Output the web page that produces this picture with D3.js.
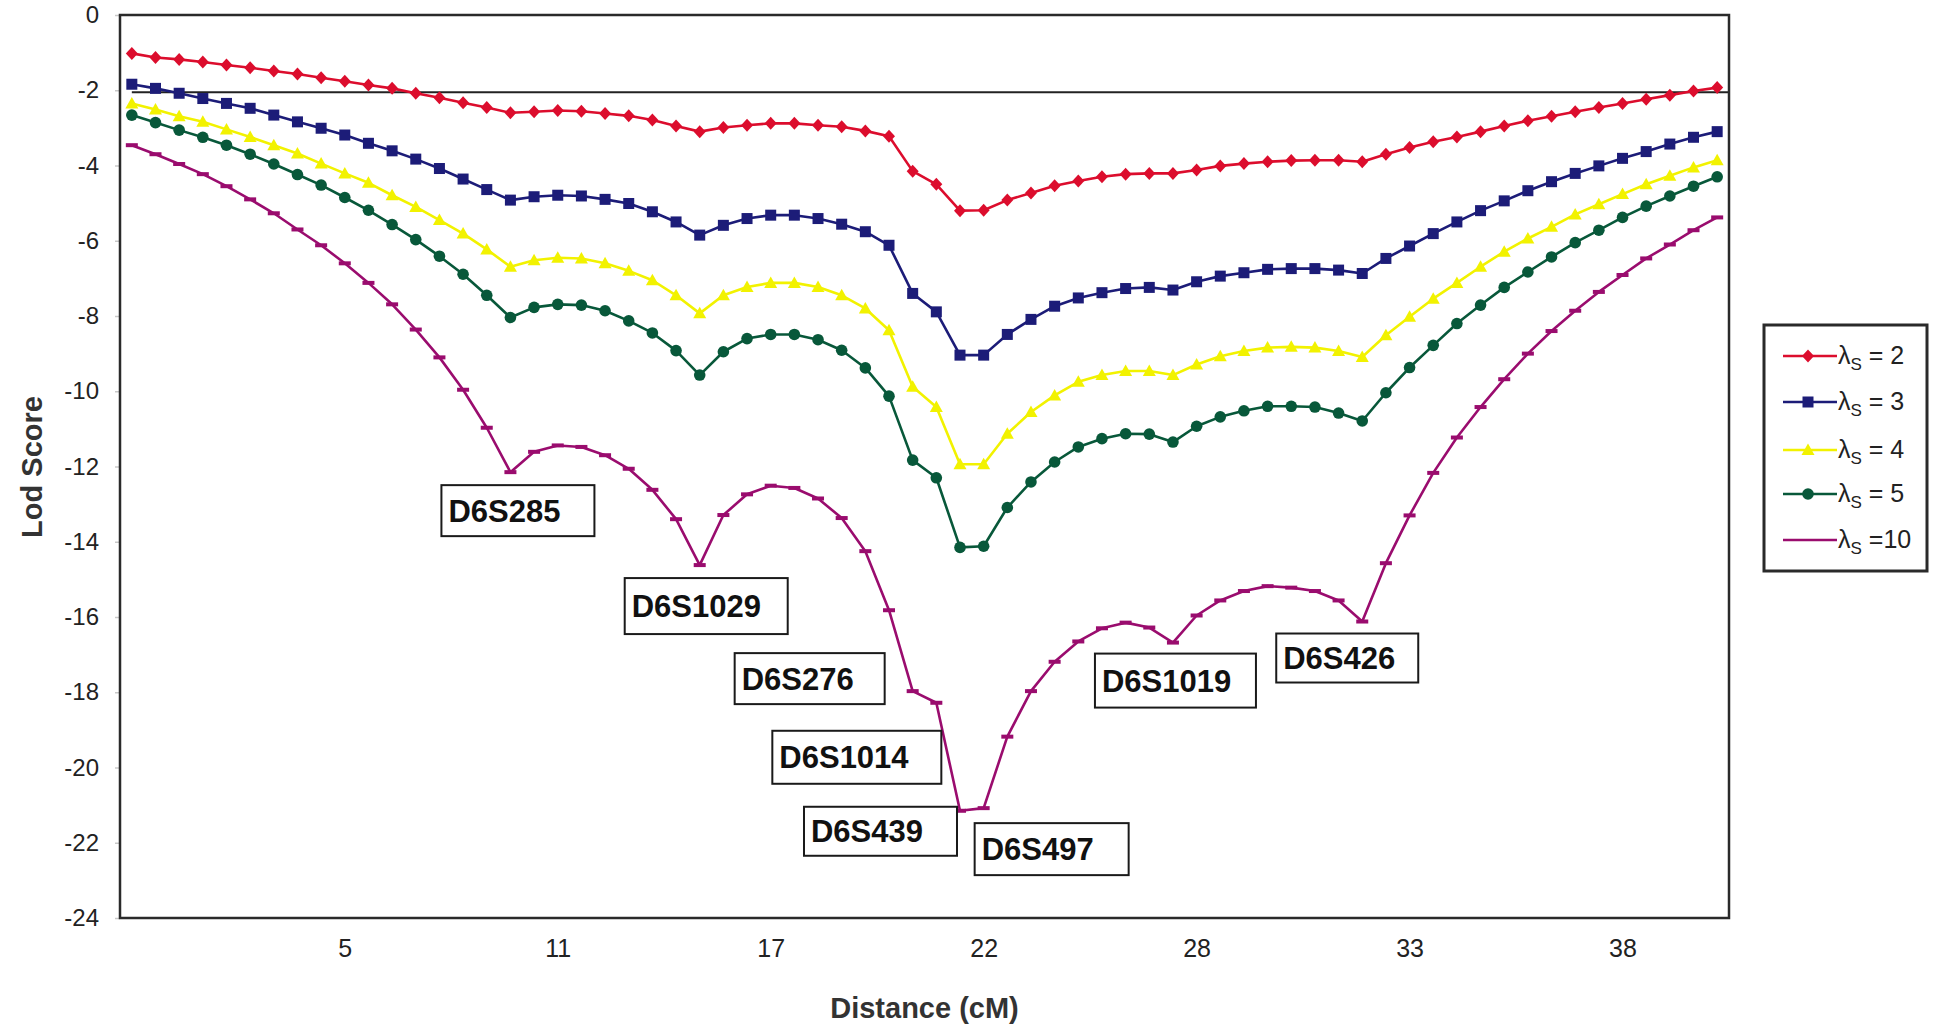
<!DOCTYPE html>
<html>
<head>
<meta charset="utf-8">
<script src="https://cdn.jsdelivr.net/npm/d3@7"></script>
<style>
  html, body { margin: 0; padding: 0; background: #fff; }
  svg { display: block; font-family: "Liberation Sans", Arial, Helvetica, sans-serif; }
</style>
</head>
<body>
<svg id="chart" width="1937" height="1025"></svg>
<script>
// ---------------- DATA ----------------
const seriesNames = ["2", "3", "4", "5", "10"];

const lambda2 = [-1.02,-1.13,-1.18,-1.25,-1.33,-1.40,-1.49,-1.57,-1.67,-1.76,-1.86,-1.95,-2.08,-2.20,-2.33,-2.46,-2.60,-2.57,-2.54,-2.56,
  -2.62,-2.68,-2.79,-2.95,-3.10,-2.99,-2.93,-2.88,-2.88,-2.93,-2.97,-3.08,-3.22,-4.15,-4.50,-5.20,-5.19,-4.92,-4.73,-4.54,
  -4.41,-4.30,-4.23,-4.21,-4.21,-4.12,-4.01,-3.95,-3.90,-3.87,-3.86,-3.86,-3.90,-3.70,-3.52,-3.37,-3.24,-3.10,-2.95,-2.81,
  -2.69,-2.57,-2.46,-2.35,-2.24,-2.13,-2.02,-1.93];

const lambda3 = [-1.84,-1.95,-2.08,-2.22,-2.35,-2.48,-2.66,-2.84,-3.01,-3.19,-3.41,-3.61,-3.83,-4.08,-4.36,-4.64,-4.92,-4.83,-4.79,-4.81,
  -4.90,-5.01,-5.23,-5.50,-5.85,-5.59,-5.41,-5.32,-5.32,-5.41,-5.56,-5.76,-6.12,-7.40,-7.89,-9.04,-9.04,-8.49,-8.09,-7.74,
  -7.52,-7.38,-7.27,-7.24,-7.31,-7.09,-6.94,-6.85,-6.76,-6.74,-6.74,-6.78,-6.87,-6.47,-6.14,-5.81,-5.50,-5.20,-4.94,-4.67,
  -4.43,-4.21,-4.01,-3.81,-3.63,-3.43,-3.25,-3.10];

const lambda4 = [-2.35,-2.51,-2.69,-2.84,-3.04,-3.24,-3.46,-3.68,-3.95,-4.21,-4.46,-4.79,-5.10,-5.45,-5.81,-6.23,-6.69,-6.52,-6.45,-6.47,
  -6.60,-6.80,-7.05,-7.45,-7.93,-7.45,-7.23,-7.12,-7.12,-7.23,-7.45,-7.80,-8.38,-9.88,-10.42,-11.94,-11.94,-11.13,-10.55,-10.11,
  -9.75,-9.57,-9.46,-9.46,-9.57,-9.29,-9.07,-8.93,-8.84,-8.82,-8.84,-8.93,-9.09,-8.51,-8.02,-7.54,-7.12,-6.69,-6.29,-5.94,
  -5.63,-5.30,-5.03,-4.76,-4.50,-4.27,-4.05,-3.86];

const lambda5 = [-2.66,-2.86,-3.06,-3.25,-3.46,-3.70,-3.96,-4.24,-4.52,-4.85,-5.19,-5.57,-5.97,-6.41,-6.89,-7.45,-8.04,-7.77,-7.69,-7.71,
  -7.86,-8.13,-8.45,-8.92,-9.57,-8.95,-8.60,-8.49,-8.49,-8.63,-8.91,-9.38,-10.13,-11.83,-12.30,-14.15,-14.12,-13.09,-12.41,-11.88,
  -11.48,-11.26,-11.13,-11.14,-11.35,-10.93,-10.68,-10.52,-10.40,-10.40,-10.42,-10.58,-10.79,-10.04,-9.37,-8.78,-8.20,-7.71,-7.24,-6.83,
  -6.43,-6.05,-5.72,-5.38,-5.08,-4.81,-4.55,-4.30];

const lambda10 = [-3.46,-3.70,-3.96,-4.23,-4.55,-4.90,-5.27,-5.70,-6.12,-6.60,-7.12,-7.69,-8.36,-9.10,-9.96,-10.97,-12.15,-11.61,-11.44,-11.48,
  -11.70,-12.06,-12.62,-13.40,-14.62,-13.29,-12.74,-12.51,-12.57,-12.85,-13.37,-14.25,-15.82,-17.97,-18.28,-21.15,-21.08,-19.18,-17.97,-17.19,
  -16.65,-16.30,-16.15,-16.28,-16.68,-15.96,-15.56,-15.31,-15.18,-15.22,-15.31,-15.56,-16.12,-14.57,-13.30,-12.17,-11.23,-10.42,-9.68,-9.00,
  -8.40,-7.86,-7.36,-6.91,-6.47,-6.10,-5.72,-5.38];

// x-axis tick labels (distance in cM) at category positions
const xTickIndex  = [9, 18, 27, 36, 45, 54, 63];
const xTickLabels = ["5", "11", "17", "22", "28", "33", "38"];
const yTicks = [0, -2, -4, -6, -8, -10, -12, -14, -16, -18, -20, -22, -24];

// threshold reference line (LOD)
const thresholdLod = -2.05;

// microsatellite markers (anchored on the lambda=10 curve at category index)
const markerNames = ["D6S285", "D6S1029", "D6S276", "D6S1014", "D6S439", "D6S497", "D6S1019", "D6S426"];
const markerIndex = [16, 24, 33, 34, 35, 36, 44, 52];

// ---------------- LAYOUT / STYLE ----------------
const W = 1937, H = 1025;
const plot = { left: 120, right: 1729, top: 15, bottom: 918 };
const nCat = lambda2.length;

const x = d3.scaleLinear().domain([-0.5, nCat - 0.5]).range([plot.left, plot.right]);
const y = d3.scaleLinear().domain([-24, 0]).range([plot.bottom, plot.top]);

const seriesData = [lambda2, lambda3, lambda4, lambda5, lambda10];
const seriesStyle = [
  { color: "#dc0d2d", marker: "diamond" },
  { color: "#1c1c78", marker: "square" },
  { color: "#f2f200", marker: "triangle" },
  { color: "#08583a", marker: "circle" },
  { color: "#9a0c6e", marker: "dash" }
];

// label box offsets relative to marker point (pixels), and sizes
const boxLayout = [
  { dx: -69,  dy: 13,  w: 153, h: 51 },
  { dx: -75,  dy: 13,  w: 163, h: 56 },
  { dx: -178, dy: -38, w: 150, h: 51 },
  { dx: -164, dy: 28,  w: 169, h: 53 },
  { dx: -156, dy: -4,  w: 153, h: 49 },
  { dx: -9,   dy: 15,  w: 154, h: 52 },
  { dx: -78,  dy: 11,  w: 161, h: 54 },
  { dx: -86,  dy: 12,  w: 142, h: 49 }
];

const svg = d3.select("#chart");
svg.append("rect").attr("width", W).attr("height", H).attr("fill", "#fff");

// marker drawing helper
function drawMarker(g, type, color) {
  if (type === "diamond") {
    g.append("path").attr("d", "M0,-6.5L6,0L0,6.5L-6,0Z").attr("fill", color);
  } else if (type === "square") {
    g.append("rect").attr("x", -5.5).attr("y", -5.5).attr("width", 11).attr("height", 11).attr("fill", color);
  } else if (type === "triangle") {
    g.append("path").attr("d", "M0,-6.5L6.5,5L-6.5,5Z").attr("fill", color);
  } else if (type === "circle") {
    g.append("circle").attr("r", 5.8).attr("fill", color);
  } else if (type === "dash") {
    g.append("rect").attr("x", -6).attr("y", -2).attr("width", 12).attr("height", 4).attr("fill", color);
  }
}

// Y axis
const yAxis = d3.axisLeft(y).tickValues(yTicks).tickSize(5).tickPadding(16).tickFormat(d3.format("d"));
const yg = svg.append("g").attr("transform", `translate(${plot.left},0)`).call(yAxis);
yg.select(".domain").remove();
yg.selectAll(".tick line").attr("stroke", "#c8c8c8").attr("stroke-width", 1.5);
yg.selectAll(".tick text").attr("font-size", 24).attr("fill", "#222")
  .text(d => d === 0 ? "0" : "-" + Math.abs(d));

// X axis (category labels)
const xAxis = d3.axisBottom(x).tickValues(xTickIndex).tickSize(0).tickPadding(21)
  .tickFormat((d, i) => xTickLabels[i]);
const xg = svg.append("g").attr("transform", `translate(0,${plot.bottom})`).call(xAxis);
xg.select(".domain").remove();
xg.selectAll(".tick text").attr("font-size", 25).attr("fill", "#222");

// Threshold line
svg.append("line")
  .attr("x1", x(0)).attr("x2", plot.right)
  .attr("y1", y(thresholdLod)).attr("y2", y(thresholdLod))
  .attr("stroke", "#222").attr("stroke-width", 2);

// Series lines and markers
const line = d3.line().x((d, i) => x(i)).y(d => y(d));
seriesData.forEach((vals, si) => {
  const st = seriesStyle[si];
  svg.append("path").datum(vals).attr("d", line)
    .attr("fill", "none").attr("stroke", st.color).attr("stroke-width", 2.6)
    .attr("stroke-linejoin", "round");
  const mg = svg.append("g");
  vals.forEach((v, i) => {
    const g = mg.append("g").attr("transform", `translate(${x(i)},${y(v)})`);
    drawMarker(g, st.marker, st.color);
  });
});

// Plot frame
svg.append("rect")
  .attr("x", plot.left).attr("y", plot.top)
  .attr("width", plot.right - plot.left).attr("height", plot.bottom - plot.top)
  .attr("fill", "none").attr("stroke", "#2a2a2a").attr("stroke-width", 2.5);

// Marker label boxes
markerNames.forEach((name, k) => {
  const idx = markerIndex[k];
  const L = boxLayout[k];
  const bx = x(idx) + L.dx, by = y(lambda10[idx]) + L.dy;
  svg.append("rect").attr("x", bx).attr("y", by).attr("width", L.w).attr("height", L.h)
    .attr("fill", "#fff").attr("stroke", "#1a1a1a").attr("stroke-width", 2);
  svg.append("text").attr("x", bx + 7).attr("y", by + L.h / 2 + 11)
    .attr("font-size", 31).attr("font-weight", "bold").attr("fill", "#111")
    .text(name);
});

// Axis titles
svg.append("text")
  .attr("transform", `translate(42,467) rotate(-90)`)
  .attr("text-anchor", "middle").attr("font-size", 29).attr("font-weight", "bold").attr("fill", "#333")
  .text("Lod Score");
svg.append("text")
  .attr("x", (plot.left + plot.right) / 2).attr("y", 1018)
  .attr("text-anchor", "middle").attr("font-size", 29).attr("font-weight", "bold").attr("fill", "#333")
  .text("Distance (cM)");

// Legend
const legend = svg.append("g");
legend.append("rect").attr("x", 1764).attr("y", 325).attr("width", 163).attr("height", 246)
  .attr("fill", "#fff").attr("stroke", "#2a2a2a").attr("stroke-width", 3);
const legendY = [356, 402, 450, 494, 540];
seriesNames.forEach((nm, si) => {
  const st = seriesStyle[si];
  const ly = legendY[si];
  legend.append("line").attr("x1", 1783).attr("x2", 1837).attr("y1", ly).attr("y2", ly)
    .attr("stroke", st.color).attr("stroke-width", 2.6);
  if (st.marker !== "dash") {
    const g = legend.append("g").attr("transform", `translate(1808,${ly})`);
    drawMarker(g, st.marker, st.color);
  }
  const t = legend.append("text").attr("x", 1838).attr("y", ly + 8)
    .attr("font-size", 25).attr("fill", "#222");
  t.append("tspan").text("λ");
  t.append("tspan").attr("font-size", 17).attr("dy", 6).text("S");
  t.append("tspan").attr("dy", -6).text(nm === "10" ? " =10" : " = " + nm);
});
</script>
</body>
</html>
